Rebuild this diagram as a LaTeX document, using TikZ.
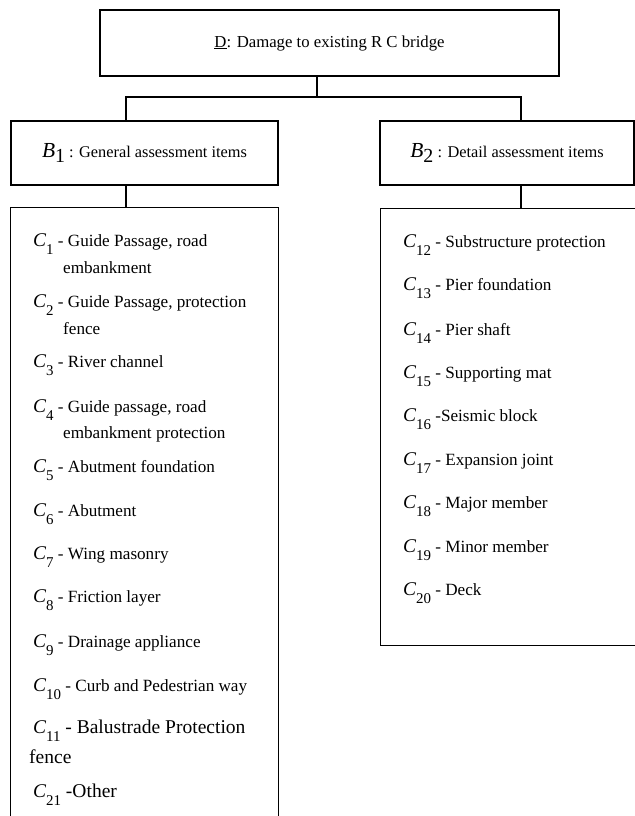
\documentclass[tikz,border=0pt]{standalone}
\usepackage{fontspec}
\setmainfont{Liberation Serif}

% criterion symbols
\newcommand{\cvar}[1]{{\fontsize{19.5}{19.5}\selectfont\itshape C}\raisebox{-8bp}{\fontsize{15}{15}\selectfont #1}}
\newcommand{\bvar}[1]{{\fontsize{21.5}{21.5}\selectfont\itshape B}\raisebox{-5bp}{\fontsize{20}{20}\selectfont #1}}

\begin{document}
\begin{tikzpicture}[
  x=1bp, y=-1bp,
  box/.style = {draw, line width=1.2bp, inner sep=0pt},
  link/.style = {line width=1.2bp},
  item/.style = {anchor=base west, inner sep=0pt, font=\fontsize{17.2}{18}\selectfont},
  bigitem/.style = {item, font=\fontsize{19.6}{21}\selectfont}
]
\useasboundingbox (0,0) rectangle (635,816);

% Goal
\node[box, minimum width=459bp, minimum height=66bp, font=\fontsize{16.8}{18}\selectfont]
  (damage) at (329.5,43) {\underline{D}: Damage to existing R C bridge};

% Criteria
\node[box, minimum width=267bp, minimum height=64bp, font=\fontsize{16.4}{18}\selectfont]
  (general) at (144.5,153) {\bvar{1} : General assessment items};
\node[box, minimum width=254bp, minimum height=64bp, font=\fontsize{16.4}{18}\selectfont]
  (detail) at (507,153) {\bvar{2} : Detail assessment items};

% Item lists
\node[box, anchor=north west, minimum width=268bp, minimum height=625bp] (genlist) at (10,207) {};
\node[box, anchor=north west, minimum width=262bp, minimum height=437bp] (detlist) at (380,208) {};

% Tree links
\coordinate (split) at (317,97);
\coordinate (leftbend) at (126,97);
\coordinate (rightbend) at (521,97);
\draw[link] (damage.south -| split) -- (split);
\draw[link] (general.north -| leftbend) -- (leftbend) -- (rightbend) -- (detail.north -| rightbend);
\draw[link] (general.south -| leftbend) -- (genlist.north -| leftbend);
\draw[link] (detail.south -| rightbend) -- (detlist.north -| rightbend);

% General assessment items
\node[item] (c1) at (33,246) {\cvar{1} - Guide Passage, road};
\node[item] (c1b) at (63,273) {embankment};
\node[item] (c2) at (33,307) {\cvar{2} - Guide Passage, protection};
\node[item] (c2b) at (63,334) {fence};
\node[item] (c3) at (33,367) {\cvar{3} - River channel};
\node[item] (c4) at (33,412) {\cvar{4} - Guide passage, road};
\node[item] (c4b) at (63,438) {embankment protection};
\node[item] (c5) at (33,472) {\cvar{5} - Abutment foundation};
\node[item] (c6) at (33,516) {\cvar{6} - Abutment};
\node[item] (c7) at (33,559) {\cvar{7} - Wing masonry};
\node[item] (c8) at (33,602) {\cvar{8} - Friction layer};
\node[item] (c9) at (33,647) {\cvar{9} - Drainage appliance};
\node[item] (c10) at (33,691) {\cvar{10} - Curb and Pedestrian way};
\node[bigitem] (c11) at (33,733) {\cvar{11} - Balustrade Protection};
\node[bigitem] (c11b) at (29,763) {fence};
\node[bigitem] (c21) at (33,797) {\cvar{21} -Other};

% Detail assessment items
\node[item] (c12) at (403,247) {\cvar{12} - Substructure protection};
\node[item] (c13) at (403,290) {\cvar{13} - Pier foundation};
\node[item] (c14) at (403,335) {\cvar{14} - Pier shaft};
\node[item] (c15) at (403,378) {\cvar{15} - Supporting mat};
\node[item] (c16) at (403,421) {\cvar{16} -Seismic block};
\node[item] (c17) at (403,465) {\cvar{17} - Expansion joint};
\node[item] (c18) at (403,508) {\cvar{18} - Major member};
\node[item] (c19) at (403,552) {\cvar{19} - Minor member};
\node[item] (c20) at (403,595) {\cvar{20} - Deck};

\end{tikzpicture}
\end{document}
